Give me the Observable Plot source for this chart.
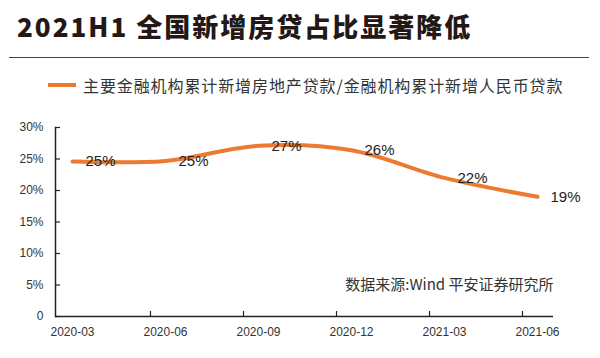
<!DOCTYPE html>
<html>
<head>
<meta charset="utf-8">
<script src="https://cdn.jsdelivr.net/npm/d3@7"></script>
<script src="https://cdn.jsdelivr.net/npm/@observablehq/plot@0.6"></script>
<style>
  html, body { margin: 0; padding: 0; background: #fff; }
  #wrap { position: relative; width: 600px; height: 358px; overflow: hidden; background: #fff; }
  #title { position: absolute; left: 17px; top: 13px; font-family: "Noto Sans CJK SC", "Noto Sans", sans-serif; font-weight: 900; font-size: 26px; line-height: 26px; letter-spacing: 2px; color: #231815; white-space: nowrap; }
  #rule { position: absolute; left: 9px; top: 57px; width: 580px; height: 0; border-top: 1.5px solid #4a4340; }
  #legend { position: absolute; left: 48px; top: 76px; height: 18px; display: flex; align-items: center; font-family: "Noto Sans CJK SC", sans-serif; font-size: 16px; letter-spacing: 0.9px; color: #333; white-space: nowrap; }
  #legend .sw { display: inline-block; width: 28px; height: 4px; background: #EC7A30; margin-right: 7px; }
  #chart { position: absolute; left: 0; top: 110px; }
</style>
</head>
<body>
<div id="wrap">
  <div id="title">2021H1 全国新增房贷占比显著降低</div>
  <div id="rule"></div>
  <div id="legend"><span class="sw"></span><span id="legendText"></span></div>
  <div id="chart"></div>
</div>
<script>
const months = ["2020-03", "2020-06", "2020-09", "2020-12", "2021-03", "2021-06"];
const shares = [24.6, 24.7, 27.1, 26.4, 22.0, 19.0];
const valueLabels = ["25%", "25%", "27%", "26%", "22%", "19%"];
const yTicks = [0, 5, 10, 15, 20, 25, 30];
const seriesName = "主要金融机构累计新增房地产贷款/金融机构累计新增人民币贷款";
const sourceText = "数据来源:Wind 平安证券研究所";

document.getElementById("legendText").textContent = seriesName;

const data = months.map((m, i) => ({ month: m, value: shares[i], label: valueLabels[i] }));

const orange = "#EC7A30";
const axisColor = "#222";

const chart = Plot.plot({
  width: 600,
  height: 248,
  marginTop: 17,
  marginBottom: 42,
  marginLeft: 55,
  marginRight: 47,
  x: { type: "point", domain: months, padding: 0.155, label: null },
  y: { domain: [0, 30], label: null },
  style: { fontFamily: "'Liberation Sans', Arial, sans-serif", fontSize: "12px", color: "#333", background: "transparent" },
  marks: [
    Plot.axisY({ ticks: yTicks, tickFormat: d => d === 0 ? "0" : d + "%", tickSize: 0, tickPadding: 12, fontSize: 12, fill: "#333" }),
    Plot.axisX({ tickSize: 0, tickPadding: 11, fontSize: 12, fill: "#333" }),
    Plot.ruleY(yTicks, { insetRight: 493, stroke: axisColor, strokeWidth: 1.2 }),
    Plot.ruleX(months.slice(1), { dx: -15, insetTop: 184, stroke: axisColor, strokeWidth: 1.2 }),
    Plot.ruleY([0], { stroke: axisColor, strokeWidth: 1.5 }),
    Plot.frame({ anchor: "left", stroke: axisColor, strokeWidth: 1.5 }),
    Plot.lineY(data, { x: "month", y: "value", stroke: orange, strokeWidth: 4, curve: "catmull-rom", strokeLinecap: "round" }),
    Plot.text(data, { x: "month", y: "value", text: "label", dx: 28, fontSize: 15, fill: "#222" }),
    Plot.text([sourceText], { frameAnchor: "bottom-right", dy: -31, lineAnchor: "middle", fontSize: 15, fontFamily: "'Noto Sans CJK SC', sans-serif", fill: "#333" })
  ]
});
document.getElementById("chart").appendChild(chart);
</script>
</body>
</html>
